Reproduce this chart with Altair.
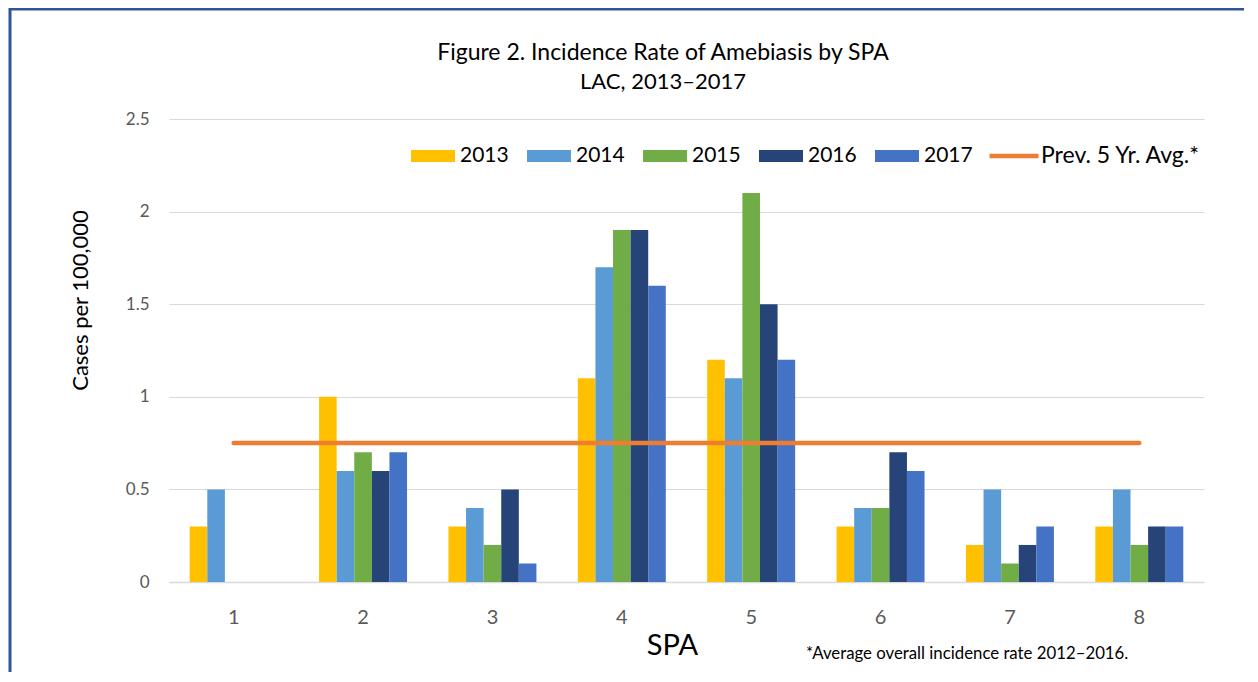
import altair as alt
import pandas as pd

spa = ["1", "2", "3", "4", "5", "6", "7", "8"]
years = ["2013", "2014", "2015", "2016", "2017"]
rates = {
    "2013": [0.3, 1.0, 0.3, 1.1, 1.2, 0.3, 0.2, 0.3],
    "2014": [0.5, 0.6, 0.4, 1.7, 1.1, 0.4, 0.5, 0.5],
    "2015": [0.0, 0.7, 0.2, 1.9, 2.1, 0.4, 0.1, 0.2],
    "2016": [0.0, 0.6, 0.5, 1.9, 1.5, 0.7, 0.2, 0.3],
    "2017": [0.0, 0.7, 0.1, 1.6, 1.2, 0.6, 0.3, 0.3],
}
avg_label = "Prev. 5 Yr. Avg.*"
avg_values = [0.75, 0.75, 0.75, 0.75, 0.75, 0.75, 0.75, 0.75]
year_colors = ["#FFC000", "#5B9BD5", "#70AD47", "#264478", "#4472C4"]
avg_color = "#ED7D31"
title_line1 = "Figure 2. Incidence Rate of Amebiasis by SPA"
title_line2 = "LAC, 2013\u20132017"
footnote = "*Average overall incidence rate 2012\u20132016."
y_ticks = [0, 0.5, 1, 1.5, 2, 2.5]

FONT = "Lato"

bar_rows = [
    {"SPA": s, "Year": y, "Rate": rates[y][i]}
    for y in years for i, s in enumerate(spa)
]
bars_df = pd.DataFrame(bar_rows)
avg_df = pd.DataFrame({"SPA": spa, "Rate": avg_values, "Series": [avg_label] * len(spa)})
one = pd.DataFrame({"t": [footnote]})
t1 = pd.DataFrame({"t": [title_line1]})
t2 = pd.DataFrame({"t": [title_line2]})

y_scale = alt.Scale(domain=[0, 2.5], nice=False, zero=True)

x_enc = alt.X(
    "SPA:N",
    sort=spa,
    scale=alt.Scale(paddingInner=0.32, paddingOuter=0.16),
    axis=alt.Axis(
        title="SPA", labelAngle=0, labelFontSize=20, labelColor="#595959",
        labelPadding=25, ticks=False, domainColor="#d9d9d9", domainWidth=1.5,
        titleFontSize=29, titleFontWeight="normal", titleColor="#000000",
        titlePadding=4, titleX=503, labelFont=FONT, titleFont=FONT,
    ),
)
y_enc = alt.Y(
    "Rate:Q",
    scale=y_scale,
    axis=alt.Axis(
        title="Cases per 100,000", values=y_ticks, format="~g",
        labelFontSize=17, labelColor="#595959", labelPadding=20,
        ticks=False, domain=False, gridColor="#d9d9d9", gridWidth=1.2,
        titleFontSize=22, titleFontWeight="normal", titleColor="#000000",
        titleX=-89, titleY=181, titleBaseline="middle", labelFont=FONT, titleFont=FONT,
    ),
)

bars = alt.Chart(bars_df).mark_bar(stroke=None).encode(
    x=x_enc,
    y=y_enc,
    xOffset=alt.XOffset("Year:N", sort=years, scale=alt.Scale(paddingInner=0, paddingOuter=0)),
    fill=alt.Fill(
        "Year:N", sort=years,
        scale=alt.Scale(domain=years, range=year_colors),
        legend=alt.Legend(
            title=None, orient="none", legendX=242, legendY=15, direction="horizontal",
            columns=5, symbolType="M-1,-0.27H1V0.27H-1Z", symbolSize=1936,
            symbolStrokeWidth=0, labelFontSize=21, labelFont=FONT, labelColor="#000000",
            labelOffset=5, columnPadding=18,
        ),
    ),
)

avg_line = alt.Chart(avg_df).mark_line(strokeWidth=4.5, strokeCap="round").encode(
    x=alt.X("SPA:N", sort=spa),
    y=alt.Y("Rate:Q", scale=y_scale),
    stroke=alt.Stroke(
        "Series:N",
        scale=alt.Scale(domain=[avg_label], range=[avg_color]),
        legend=alt.Legend(
            title=None, orient="none", legendX=818, legendY=10, direction="horizontal",
            symbolType="stroke", symbolSize=2401, symbolStrokeWidth=4.5,
            labelFontSize=23, labelFont=FONT, labelColor="#000000", labelOffset=0,
        ),
    ),
)

note = alt.Chart(one).mark_text(
    align="left", baseline="middle", fontSize=16.8, font=FONT, color="#000000"
).encode(x=alt.value(637), y=alt.value(535), text="t:N")

title1 = alt.Chart(t1).mark_text(
    align="center", baseline="middle", fontSize=23, font=FONT, color="#000000"
).encode(x=alt.value(494), y=alt.value(-66), text="t:N")
title2 = alt.Chart(t2).mark_text(
    align="center", baseline="middle", fontSize=22, font=FONT, color="#000000"
).encode(x=alt.value(494), y=alt.value(-37), text="t:N")

frame_left = alt.Chart(one).mark_rule(color="#2F5597", strokeWidth=3).encode(
    x=alt.value(-159), y=alt.value(-111), y2=alt.value(560)
)
frame_top = alt.Chart(one).mark_rule(color="#2F5597", strokeWidth=3).encode(
    x=alt.value(-160), x2=alt.value(1100), y=alt.value(-110)
)

chart = alt.layer(bars, avg_line, note, title1, title2, frame_left, frame_top).resolve_scale(
    fill="independent", stroke="independent"
).properties(
    width=1035,
    height=463,
    padding={"left": 161, "top": 111, "right": 40, "bottom": 90},
    autosize=alt.AutoSizeParams(type="none"),
    background="white",
).configure_view(stroke=None)

chart.save("out.html", embed_options={"renderer": "svg", "actions": False})
